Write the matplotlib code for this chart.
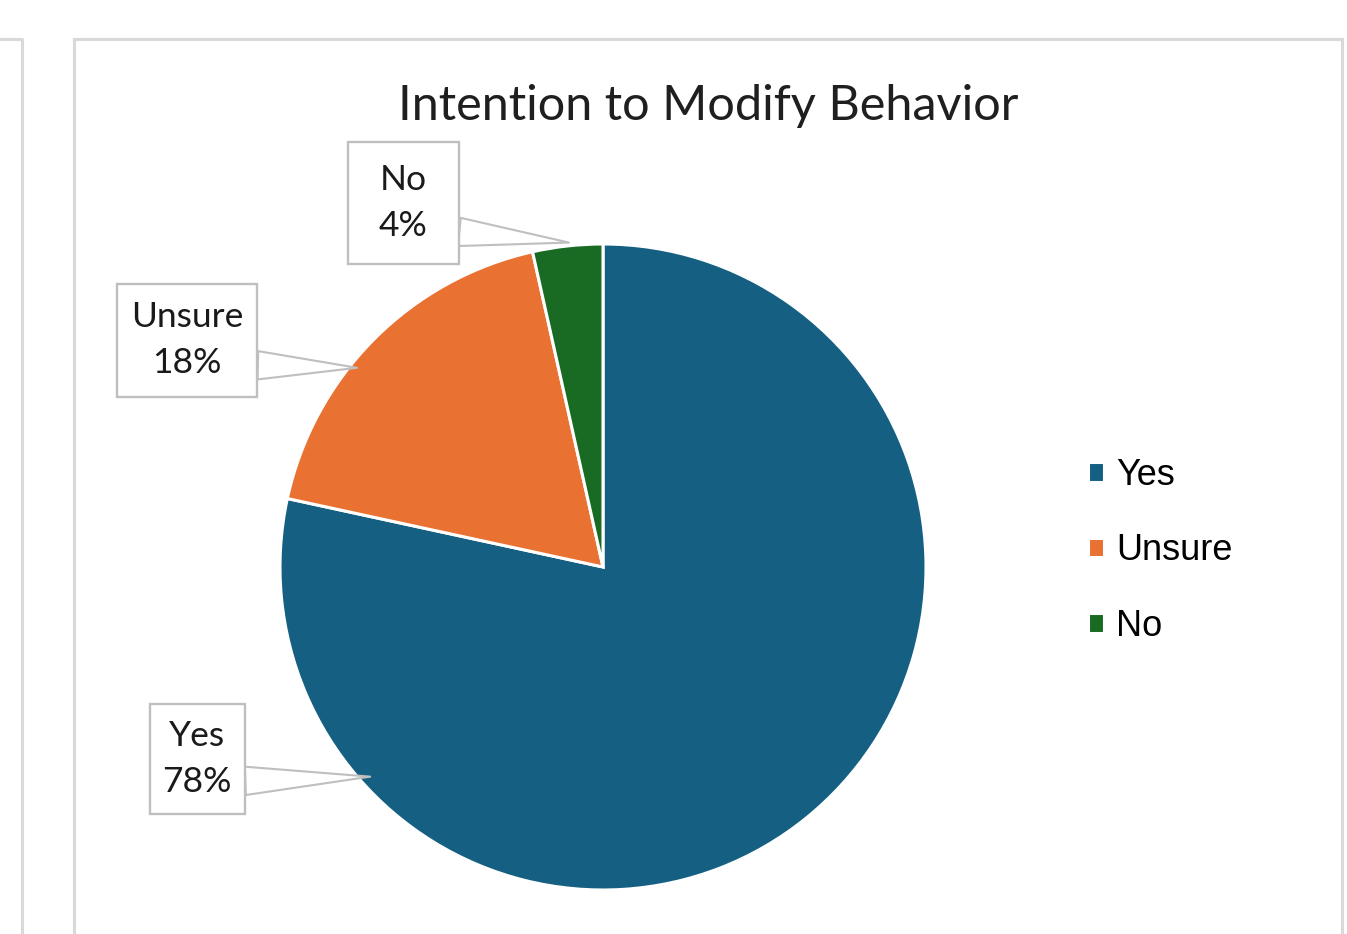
import matplotlib
matplotlib.use("Agg")
import matplotlib.pyplot as plt
from matplotlib.path import Path
from matplotlib.patches import Rectangle
import numpy as np

# data
categories = ["Yes", "Unsure", "No"]
shares = [78.4, 18.1, 3.5]
colors = ["#156082", "#E97132", "#196B24"]

# layout (pixels, y measured from the top of the picture)
W, H = 1347, 934
label_pos = [(197, 759), (187, 340), (403, 203)]
label_size = [(95, 110), (140, 113), (111, 121)]
leader_angle = [222, 141, 96]      # where each callout touches the pie
leader_reach = [0.97, 0.98, 1.01]

fig = plt.figure(figsize=(W / 100, H / 100), dpi=100)
ax = fig.add_axes([0, 0, 1, 1])

cx, cy, r = 603, H - 567, 323
wedges, _ = ax.pie(shares, colors=colors, startangle=90, counterclock=False,
                   center=(cx, cy), radius=r,
                   wedgeprops=dict(edgecolor="white", linewidth=2.2))
ax.set_xlim(0, W)
ax.set_ylim(0, H)
ax.axis("off")


def make_box(w, h):
    def box(x0, y0, width, height, mutation_size):
        x = x0 + width / 2 - w / 2
        y = y0 + height / 2 - h / 2
        return Path([(x, y), (x + w, y), (x + w, y + h), (x, y + h), (x, y)], closed=True)
    return box


for cat, val, (lx, ly), (bw, bh), ang, k in zip(categories, shares, label_pos, label_size,
                                                leader_angle, leader_reach):
    a = np.radians(ang)
    tx, ty = cx + k * r * np.cos(a), cy + k * r * np.sin(a)
    ax.annotate(f"{cat}\n{val:.0f}%", xy=(tx, ty), xytext=(lx, H - ly),
                ha="center", va="center", fontsize=25.5, family="Lato",
                linespacing=1.55, color="#1a1a1a",
                bbox=dict(boxstyle=make_box(bw, bh), fc="white", ec="#bfbfbf", lw=1.7),
                arrowprops=dict(arrowstyle="wedge,tail_width=0.8,shrink_factor=0.5",
                                fc="white", ec="#bfbfbf", lw=1.5, relpos=(0.5, 0.2),
                                shrinkA=0, shrinkB=0))

ax.text(708, H - 106, "Intention to Modify Behavior", ha="center", va="center",
        fontsize=35, family="Lato", color="#1f1f1f")

ax.legend(wedges, categories, loc="center left",
          bbox_to_anchor=(1088 / W, 1 - 551 / H), frameon=False,
          prop=dict(family="Liberation Sans", size=26),
          handlelength=0.45, handleheight=0.45, handletextpad=0.33,
          labelspacing=1.12, borderaxespad=0, borderpad=0)

# chart frame and the edge of the neighbouring panel
ax.add_patch(Rectangle((74, -10), 1342 - 74, H - 39 + 10, fill=False,
                       ec="#d9d9d9", lw=2.2, clip_on=False))
ax.plot([0, 21.5, 21.5], [H - 39, H - 39, -10], color="#d9d9d9", lw=2.2, clip_on=False)

fig.savefig("out.png", dpi=100)
